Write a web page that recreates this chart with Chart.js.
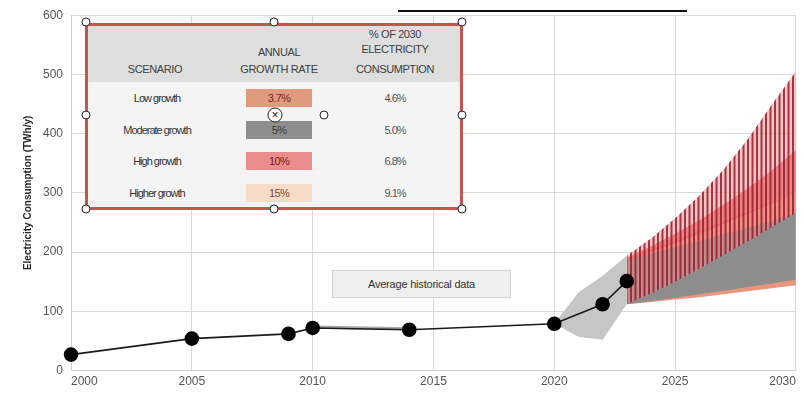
<!DOCTYPE html>
<html>
<head>
<meta charset="utf-8">
<script src="https://cdn.jsdelivr.net/npm/chart.js@4.4.1/dist/chart.umd.min.js"></script>
<style>
body { margin: 0; background: #fff; font-family: "Liberation Sans", Arial, sans-serif; }
#wrap { position: relative; width: 804px; height: 393px; overflow: hidden; }
#c { position: absolute; left: 0; top: 0; }
.topline { position: absolute; left: 398px; top: 10px; width: 289px; height: 2px; background: #111; }
.panel { position: absolute; left: 85px; top: 23px; width: 372px; height: 181px; border: 3px solid #c4544c; background: #f4f4f4; }
.panel .head { position: absolute; left: 0; top: 0; width: 372px; height: 56px; background: #dedede; }
.txt { position: absolute; transform: translate(-50%, -50%); white-space: nowrap; color: #404040; }
.hd { font-size: 11px; letter-spacing: -0.4px; }
.row { font-size: 11px; letter-spacing: -1px; color: #333; }
.cell { position: absolute; width: 66px; height: 18px; line-height: 18px; text-align: center; font-size: 11px; letter-spacing: -0.6px; }
.handle { position: absolute; width: 7px; height: 7px; border: 1px solid #222; border-radius: 50%; background: #fff; transform: translate(-50%, -50%); }
.rot { position: absolute; left: 275px; top: 115px; width: 13px; height: 13px; border: 1px solid #222; border-radius: 50%; background: #fff; transform: translate(-50%, -50%); font-size: 12px; line-height: 13px; text-align: center; color: #222; }
.avg { position: absolute; left: 332px; top: 270px; width: 177px; height: 26px; line-height: 26px; background: #efefef; border: 1px solid #d2d2d2; text-align: center; font-size: 11px; color: #333; letter-spacing: -0.2px; }
</style>
</head>
<body>
<div id="wrap">
  <canvas id="c" width="804" height="393"></canvas>
  <div class="topline"></div>
  <div class="avg">Average historical data</div>
  <div class="panel" id="panel"><div class="head"></div></div>
  <div id="handles"></div>
</div>
<script>
// historical consumption (TWh/y)
var histYears = [2000, 2005, 2009, 2010, 2014, 2020, 2022, 2023];
var histValues = [27, 54, 62, 72, 69, 79, 112, 151];

// grey range around the recent history
var rangeYears = [2020, 2021, 2022, 2023];
var rangeLow = [79, 57, 52, 112];
var rangeHigh = [79, 132, 160, 194];

// thin band 2010-2014
var flatYears = [2010, 2014];
var flatLow = [71, 68];
var flatHigh = [76, 73];

// projection fan 2023-2030
var projYears = [2023, 2024, 2025, 2026, 2027, 2028, 2029, 2030];
var lowBottom = [112, 116, 120, 124, 129, 134, 139, 144];
var lowTop = [190, 205, 220, 236, 252, 268, 284, 300];
var modBottom = [112, 117, 123, 129, 135, 141, 147, 154];
var modTop = [189, 198, 209, 219, 230, 241, 253, 266];
var highBottom = [185, 200, 215, 230, 247, 264, 282, 300];
var highTop = [191, 210, 231, 254, 280, 308, 338, 372];
var higherBottom = [112, 130, 150, 172, 195, 218, 242, 266];
var higherTop = [194, 223, 257, 295, 339, 390, 449, 505];

// table
var scenarios = ["Low growth", "Moderate growth", "High growth", "Higher growth"];
var growthRates = ["3.7%", "5%", "10%", "15%"];
var shares2030 = ["4.6%", "5.0%", "6.8%", "9.1%"];
var rateFills = ["#e09a7e", "#8e8e8e", "#ea8d8c", "#f6dcc7"];
var rateInk = ["#7b2a1c", "#3a3a3a", "#7a1c1c", "#7a4a34"];

function pts(xs, ys) {
    return xs.map(function (x, i) { return { x: x, y: ys[i] }; });
}

function edge(xs, ys, order) {
    return { data: pts(xs, ys), borderWidth: 0, pointRadius: 0, fill: false, order: order };
}

function band(xs, ys, order, color) {
    return { data: pts(xs, ys), borderWidth: 0, pointRadius: 0, fill: '-1', backgroundColor: color, order: order };
}

// vertical stripes for the higher growth fan
function stripes() {
    var c = document.createElement('canvas');
    c.width = 9; c.height = 8;
    var g = c.getContext('2d');
    g.fillStyle = 'rgba(244,140,140,0.5)';
    g.fillRect(0, 0, 9, 8);
    g.fillStyle = 'rgba(150,28,45,0.85)';
    g.fillRect(0, 0, 2, 8);
    g.fillRect(4.5, 0, 2, 8);
    return g.createPattern(c, 'repeat');
}

var tickFont = { family: "'Liberation Sans', Arial, sans-serif", size: 12 };

new Chart(document.getElementById('c'), {
    type: 'line',
    data: {
        datasets: [
            {
                data: pts(histYears, histValues),
                borderColor: '#1a1a1a',
                borderWidth: 1.6,
                pointRadius: 6.5,
                pointBackgroundColor: '#000',
                pointBorderColor: '#000',
                fill: false,
                clip: false,
                order: 0
            },
            edge(rangeYears, rangeLow, 10),
            band(rangeYears, rangeHigh, 10, '#c6c6c6'),
            edge(flatYears, flatLow, 10),
            band(flatYears, flatHigh, 10, '#a8a8a8'),
            edge(projYears, lowBottom, 9),
            band(projYears, lowTop, 9, '#e8957c'),
            edge(projYears, modBottom, 8),
            band(projYears, modTop, 8, '#8d8d8d'),
            edge(projYears, highBottom, 7),
            band(projYears, highTop, 7, 'rgba(226,82,82,0.8)'),
            edge(projYears, higherBottom, 6),
            band(projYears, higherTop, 6, stripes())
        ]
    },
    options: {
        responsive: false,
        devicePixelRatio: 1,
        animation: false,
        layout: { padding: { left: 22, top: 1, right: 7, bottom: 0 } },
        plugins: { legend: { display: false }, tooltip: { enabled: false } },
        elements: { line: { tension: 0 } },
        scales: {
            x: {
                type: 'linear',
                min: 2000,
                max: 2030,
                ticks: {
                    stepSize: 5,
                    align: 'inner',
                    padding: 4,
                    color: '#555',
                    font: tickFont,
                    callback: function (v) { return String(v); }
                },
                grid: { color: '#d9d9d9', drawTicks: false },
                border: { color: '#d0d0d0' }
            },
            y: {
                min: 0,
                max: 600,
                ticks: { stepSize: 100, padding: 8, color: '#555', font: tickFont },
                grid: { color: '#d9d9d9', drawTicks: false },
                border: { color: '#d0d0d0' },
                title: {
                    display: true,
                    text: 'Electricity Consumption (TWh/y)',
                    color: '#262626',
                    font: { family: "'Liberation Sans', Arial, sans-serif", size: 10, weight: 'bold' },
                    padding: { top: 0, bottom: 1 }
                }
            }
        }
    }
});

// table overlay
var panel = document.getElementById('panel');
function put(parent, cls, text, x, y, color) {
    var d = document.createElement('div');
    d.className = 'txt ' + cls;
    d.textContent = text;
    d.style.left = x + 'px';
    d.style.top = y + 'px';
    if (color) d.style.color = color;
    parent.appendChild(d);
    return d;
}
// panel inner coords: origin at (88, 26)
put(panel, 'hd', 'SCENARIO', 67, 43);
put(panel, 'hd', 'ANNUAL', 191, 26);
put(panel, 'hd', 'GROWTH RATE', 191, 43);
put(panel, 'hd', '% OF 2030', 307, 8);
put(panel, 'hd', 'ELECTRICITY', 307, 23);
put(panel, 'hd', 'CONSUMPTION', 307, 43);
scenarios.forEach(function (s, i) {
    var y = 72 + i * 31.7;
    put(panel, 'row', s, 69, y);
    var cell = document.createElement('div');
    cell.className = 'cell';
    cell.style.left = '158px';
    cell.style.top = (y - 9) + 'px';
    cell.style.background = rateFills[i];
    cell.style.color = rateInk[i];
    cell.textContent = growthRates[i];
    panel.appendChild(cell);
    put(panel, 'row', shares2030[i], 307, y, '#555');
});

// selection handles
var handles = document.getElementById('handles');
[[86, 22], [274, 22], [462, 22], [86, 115], [462, 115], [86, 209], [274, 209], [462, 209], [324, 115]].forEach(function (p) {
    var h = document.createElement('div');
    h.className = 'handle';
    h.style.left = p[0] + 'px';
    h.style.top = p[1] + 'px';
    handles.appendChild(h);
});
var r = document.createElement('div');
r.className = 'rot';
r.textContent = '\u00d7';
handles.appendChild(r);
</script>
</body>
</html>
